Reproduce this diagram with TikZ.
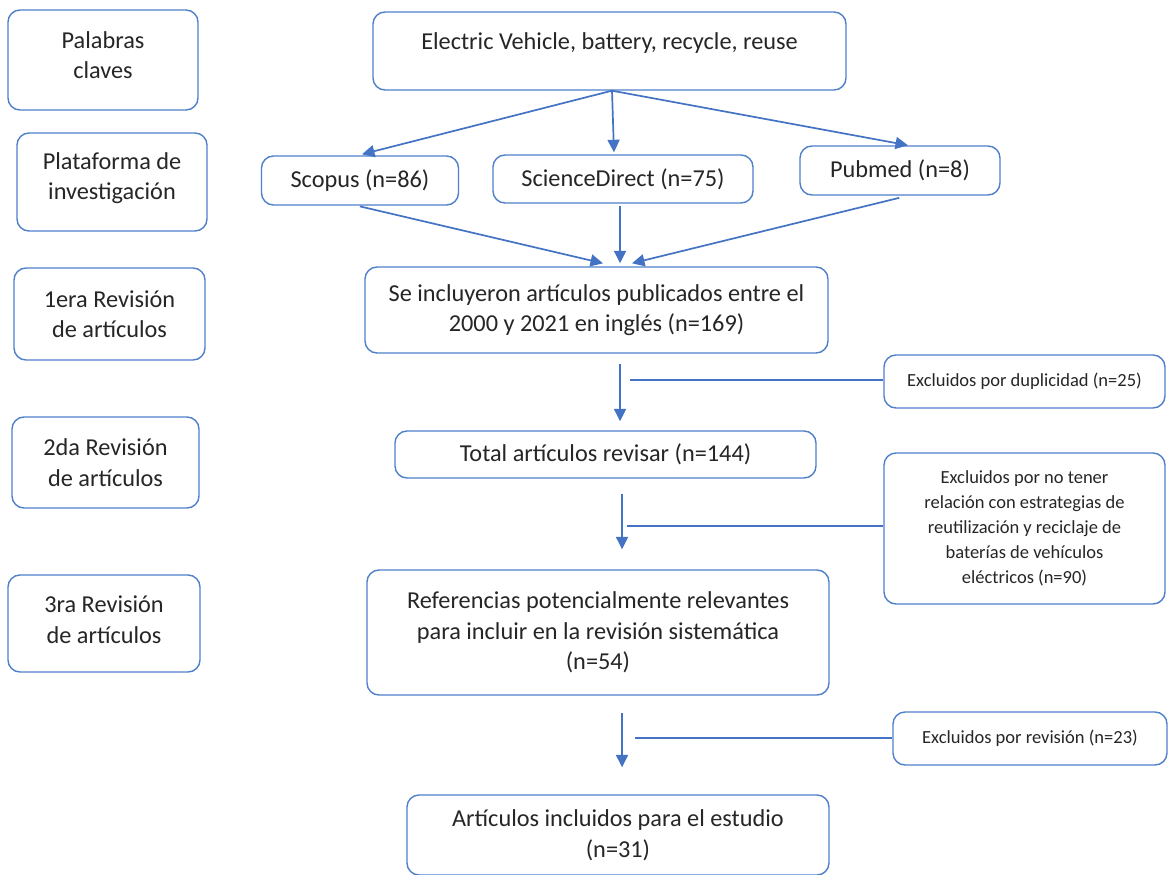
\documentclass[tikz,border=0pt]{standalone}
\usepackage{fontspec}
\setmainfont{Carlito}
\usetikzlibrary{arrows.meta}
\begin{document}
\begin{tikzpicture}[x=1pt,y=-1pt,
  box/.style={draw=boxColor,line width=1.4,rounded corners=12,align=center,inner sep=0pt,
    text=textColor,font=\fontsize{24.3}{30.5}\selectfont},
  smallbox/.style={box,font=\fontsize{18.5}{25}\selectfont},
  arr/.style={draw=lineColor,line width=1.7,-{Triangle[length=12.5,width=12]}},
  link/.style={draw=lineColor,line width=1.6}]
\definecolor{boxColor}{RGB}{79,129,203}
\definecolor{lineColor}{RGB}{68,114,196}
\definecolor{textColor}{RGB}{38,38,38}
\path[use as bounding box,fill=white] (0,0) rectangle (1168,875);

% etapas
\node[box,minimum width=190,minimum height=100,text depth=10] (kw) at (103,60) {Palabras\\claves};
\node[box,minimum width=190,minimum height=98,text depth=12] (plat) at (112,182) {Plataforma de\\investigación};
\node[box,minimum width=191,minimum height=92] (rev1) at (109.5,314) {1era Revisión\\de artículos};
\node[box,minimum width=187,minimum height=91] (rev2) at (105.5,462.5) {2da Revisión\\de artículos};
\node[box,minimum width=192,minimum height=97,text depth=8] (rev3) at (104,623.5) {3ra Revisión\\de artículos};

% busqueda
\node[box,minimum width=473,minimum height=78,text depth=19] (key) at (609.5,51) {Electric Vehicle, battery, recycle, reuse};
\node[box,minimum width=197,minimum height=49] (scopus) at (360,180.5) {Scopus (n=86)};
\node[box,minimum width=260,minimum height=48] (sd) at (623,179) {ScienceDirect (n=75)};
\node[box,minimum width=200,minimum height=49] (pub) at (900,170.5) {Pubmed (n=8)};

% revisiones
\node[box,minimum width=463,minimum height=86] (incl) at (596.5,310) {Se incluyeron artículos publicados entre el\\2000 y 2021 en inglés (n=169)};
\node[box,minimum width=421,minimum height=47] (total) at (605.5,454.5) {Total artículos revisar (n=144)};
\node[box,minimum width=462,minimum height=125] (refs) at (598,632.5) {Referencias potencialmente relevantes\\para incluir en la revisión sistemática\\(n=54)};
\node[box,minimum width=422,minimum height=80] (final) at (618,835) {Artículos incluidos para el estudio\\(n=31)};

% excluidos
\node[smallbox,minimum width=281,minimum height=53] (dup) at (1024.5,381.5) {Excluidos por duplicidad (n=25)};
\node[smallbox,minimum width=281,minimum height=151] (norel) at (1024.5,528.5) {Excluidos por no tener\\relación con estrategias de\\reutilización y reciclaje de\\baterías de vehículos\\eléctricos (n=90)};
\node[smallbox,minimum width=274,minimum height=53] (exrev) at (1030,738.5) {Excluidos por revisión (n=23)};

\draw[arr] ([xshift=2.5]key.south) -- ([xshift=2,yshift=1]scopus.north);
\draw[arr] ([xshift=2.5]key.south) -- ([xshift=-9,yshift=2]sd.north);
\draw[arr] ([xshift=2.5]key.south) -- ([xshift=8]pub.north);

\draw[arr,shorten <=3] ([xshift=-3]scopus.south) -- ([xshift=6.5,yshift=3]incl.north);
\draw[arr,shorten <=2] ([xshift=-3]sd.south) -- ([xshift=23.5,yshift=3]incl.north);
\draw[arr,shorten <=9] ([xshift=8]pub.south) -- ([xshift=35.5,yshift=3]incl.north);

\draw[arr] ([xshift=23.5,yshift=-10]incl.south) -- ([xshift=14.5,yshift=9]total.north);
\draw[arr] ([xshift=16.5,yshift=-15]total.south) -- ([xshift=24,yshift=20]refs.north);
\draw[arr] ([xshift=24,yshift=-17]refs.south) -- ([xshift=4,yshift=27]final.north);

\coordinate (j1) at (630,380);
\coordinate (j2) at (627,526);
\coordinate (j3) at (635,738);
\draw[link] (j1) -- (j1 -| dup.west);
\draw[link] (j2) -- (j2 -| norel.west);
\draw[link] (j3) -- (j3 -| exrev.west);
\end{tikzpicture}
\end{document}
